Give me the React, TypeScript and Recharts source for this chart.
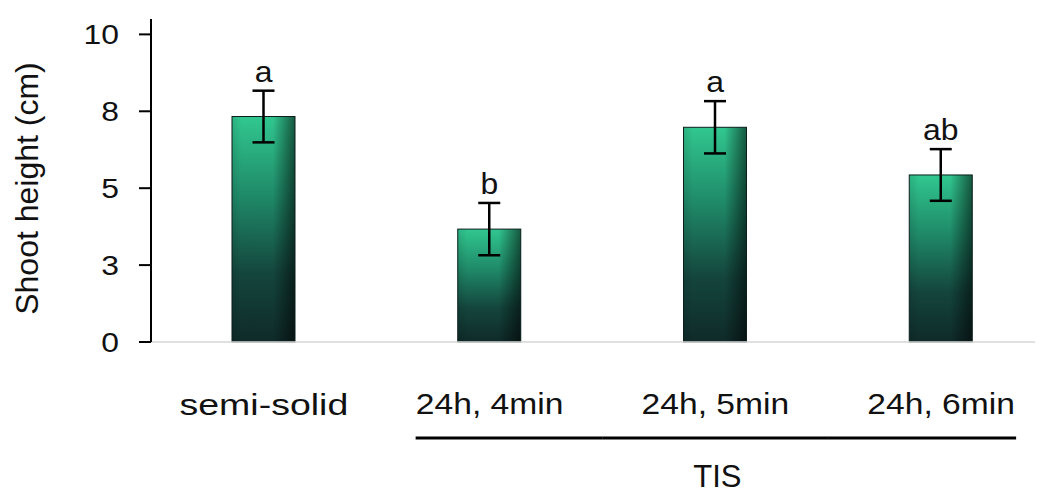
import { Bar, BarChart, ErrorBar, LabelList, XAxis, YAxis } from "recharts";

const categories = ["semi-solid", "24h, 4min", "24h, 5min", "24h, 6min"];
const heights = [7.33, 3.67, 6.98, 5.43];
const errors = [0.84, 0.85, 0.85, 0.84];
const letters = ["a", "b", "a", "ab"];
const yTicks = [0, 2.5, 5, 7.5, 10];
const yTitle = "Shoot height (cm)";
const groupLabel = "TIS";

const data = categories.map((name, i) => ({
    name,
    height: heights[i],
    err: errors[i],
    letter: letters[i],
}));

const FONT = "'Liberation Sans', Arial, sans-serif";

const BarShape = (props: any) => {
    const { x, y, width, height } = props;
    if (!height || height <= 0) return null;
    return (
        <g>
            <rect x={x} y={y} width={width} height={height} fill="url(#barV)" />
            <rect x={x} y={y} width={width} height={height} fill="url(#barH)" stroke="#0b1f1d" strokeWidth={1} />
        </g>
    );
};

const YTick = (props: any) => {
    const { x, y, payload } = props;
    return (
        <text
            transform={`translate(${x},${y}) scale(1.18,1)`}
            textAnchor="end"
            dominantBaseline="central"
            fontSize={27}
            fontFamily={FONT}
            fill="#111"
        >
            {Math.round(payload.value)}
        </text>
    );
};

const YTitle = (props: any) => {
    const { viewBox } = props;
    const cx = viewBox.x + 19;
    const cy = viewBox.y + viewBox.height / 2 + 8;
    return (
        <text
            transform={`translate(${cx},${cy}) rotate(-90)`}
            textAnchor="middle"
            dominantBaseline="central"
            fontSize={32}
            fontFamily={FONT}
            fill="#111"
        >
            {yTitle}
        </text>
    );
};

const XTick = (props: any) => {
    const { x, y, payload, index } = props;
    const half = 113;
    const ly = y + 96;
    let line = null;
    if (index === 1) line = <line x1={x - 74} x2={x + half} y1={ly} y2={ly} stroke="#000" strokeWidth={3} />;
    if (index === 2) line = <line x1={x - half} x2={x + half} y1={ly} y2={ly} stroke="#000" strokeWidth={3} />;
    if (index === 3) line = <line x1={x - half} x2={x + 75} y1={ly} y2={ly} stroke="#000" strokeWidth={3} />;
    return (
        <g>
            <text
                transform={`translate(${x},${y + 62}) scale(${index === 0 ? 1.25 : 1.12},1)`}
                textAnchor="middle"
                dominantBaseline="central"
                fontSize={30}
                fontFamily={FONT}
                fill="#111"
            >
                {payload.value}
            </text>
            {line}
            {index === 2 && (
                <text
                    transform={`translate(${x + 2},${y + 134})`}
                    textAnchor="middle"
                    dominantBaseline="central"
                    fontSize={31}
                    fontFamily={FONT}
                    fill="#111"
                >
                    {groupLabel}
                </text>
            )}
        </g>
    );
};

const LetterLabel = (props: any) => {
    const { x, y, width, height, value, index } = props;
    const v = heights[index];
    const errPx = (errors[index] / v) * height;
    return (
        <text
            transform={`translate(${x + width / 2},${y - errPx - 9}) scale(1.1,1)`}
            textAnchor="middle"
            fontSize={29}
            fontFamily={FONT}
            fill="#111"
        >
            {value}
        </text>
    );
};

export default function App() {
    return (
        <div style={{ width: 1035, height: 486, overflow: "hidden", background: "#fff" }}>
            <BarChart
                width={1046}
                height={486}
                data={data}
                margin={{ top: 11, right: 0, left: 0, bottom: 0 }}
                barSize={63}
            >
                <defs>
                    <linearGradient id="barV" x1="0" y1="0" x2="0" y2="1">
                        <stop offset="0%" stopColor="#31c790" />
                        <stop offset="35%" stopColor="#1f8a68" />
                        <stop offset="70%" stopColor="#14453d" />
                        <stop offset="100%" stopColor="#0f2a29" />
                    </linearGradient>
                    <linearGradient id="barH" x1="0" y1="0" x2="1" y2="0">
                        <stop offset="0%" stopColor="#000" stopOpacity={0.1} />
                        <stop offset="15%" stopColor="#000" stopOpacity={0} />
                        <stop offset="65%" stopColor="#000" stopOpacity={0} />
                        <stop offset="100%" stopColor="#000" stopOpacity={0.55} />
                    </linearGradient>
                </defs>
                <XAxis
                    dataKey="name"
                    height={152}
                    tickSize={0}
                    tickMargin={0}
                    tick={<XTick />}
                    axisLine={{ stroke: "#d6d6d6", strokeWidth: 1.5 }}
                    interval={0}
                />
                <YAxis
                    width={143}
                    domain={[0, 10.5]}
                    ticks={yTicks}
                    tick={<YTick />}
                    tickSize={12}
                    tickMargin={20}
                    tickLine={{ stroke: "#000", strokeWidth: 2 }}
                    axisLine={{ stroke: "#000", strokeWidth: 2 }}
                    label={<YTitle />}
                />
                <Bar dataKey="height" shape={<BarShape />} isAnimationActive={false}>
                    <ErrorBar dataKey="err" width={11} stroke="#000" strokeWidth={2.5} />
                    <LabelList dataKey="letter" content={<LetterLabel />} />
                </Bar>
            </BarChart>
        </div>
    );
}
